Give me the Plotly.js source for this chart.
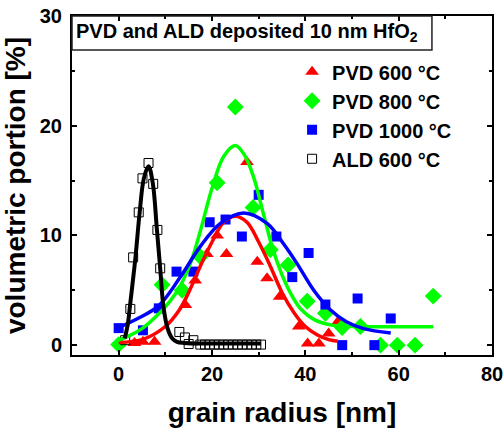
<!DOCTYPE html>
<html><head><meta charset="utf-8">
<script src="https://cdn.plot.ly/plotly-3.0.1.min.js"></script>
<style>html,body{margin:0;padding:0;background:#fff}#c{width:503px;height:432px}</style>
</head><body><div id="c"></div>
<script>
// ---- data ----
var pvd600_x = [3.4, 5.2, 7.7, 14.3, 16.4, 18.9, 21.1, 23.1, 27.5, 29.7, 31.8, 34.5, 38.6, 40.5, 42.9, 45.0, 47.1];
var pvd600_y = [0.2, 0.3, 0.3, 3.65, 5.9, 8.3, 10.0, 8.3, 16.7, 7.6, 6.1, 4.4, 1.7, 0.15, 0.15, 1.07, 2.2];

var pvd800_x = [0.0, 9.3, 13.6, 17.5, 21.1, 25.0, 28.8, 32.5, 36.3, 40.4, 44.3, 47.9, 51.8, 56.1, 59.7, 63.5, 67.4];
var pvd800_y = [0.05, 5.5, 5.0, 8.05, 14.8, 21.7, 12.55, 8.7, 7.3, 4.0, 2.9, 1.6, 1.7, 0.0, 0.0, 0.0, 4.47];

var pvd1000_x = [0.0, 5.2, 8.6, 12.4, 16.0, 19.5, 22.9, 26.4, 30.0, 33.8, 37.2, 40.7, 44.3, 47.9, 51.2, 54.8, 58.3];
var pvd1000_y = [1.55, 1.35, 3.35, 6.7, 6.7, 11.2, 11.45, 9.9, 13.7, 9.9, 6.2, 8.4, 3.7, 0.0, 4.25, 0.0, 2.43];

var ald600_x = [1.4, 2.5, 3.1, 4.3, 5.1, 6.4, 7.4, 8.3, 8.9, 13.0, 14.2, 15.0, 16.0, 17.5, 18.5, 19.5, 20.5, 21.5, 22.5, 23.5, 24.5, 25.5, 26.5, 27.5, 28.5, 29.5, 30.5];
var ald600_y = [0.45, 3.3, 8.0, 12.1, 15.2, 16.6, 14.7, 10.5, 7.0, 1.2, 0.7, 0.1, 0.45, 0.05, 0.05, 0.05, 0.05, 0.05, 0.05, 0.05, 0.05, 0.05, 0.05, 0.05, 0.05, 0.05, 0.05];

// fitted curves, points
var fit600_x = [0, 5, 10, 13, 15, 17.5, 20, 22.5, 25, 27.5, 30, 32.5, 35, 37.5, 40, 42.5, 45, 47];
var fit600_y = [0.25, 0.5, 1.7, 3.2, 4.8, 7.2, 9.4, 11.2, 11.75, 11.2, 9.4, 7.2, 4.8, 3.0, 1.7, 0.95, 0.5, 0.36];

var fit800_x = [-0.5, 2, 5, 8, 11, 13.2, 15.5, 17.5, 20, 22.5, 25, 27, 29, 31, 33, 35, 37, 39, 42, 46, 52, 67.4];
var fit800_y = [0.4, 0.8, 1.5, 2.6, 4.0, 5.4, 7.6, 10.4, 14.3, 17.2, 18.2, 17.3, 15.2, 12.0, 8.8, 6.4, 4.6, 3.3, 2.3, 1.8, 1.7, 1.67];

var fit1000_x = [0, 4, 8.6, 13.2, 17.5, 21.8, 26.8, 31.8, 35.4, 38.2, 41.8, 45.4, 48.9, 52.5, 58.3];
var fit1000_y = [1.6, 2.4, 3.6, 6.2, 9.0, 11.1, 12.05, 11.1, 9.2, 7.45, 5.0, 3.2, 2.1, 1.5, 1.1];

var fitald_x = [1.3, 2.0, 2.4, 3.0, 3.6, 4.5, 5.4, 6.4, 7.3, 8.2, 8.9, 9.6, 10.5, 11.5, 12.5, 14, 20, 30.5];
var fitald_y = [0.6, 2.0, 3.5, 5.7, 8.0, 12.1, 15.2, 16.3, 14.8, 10.5, 7.0, 3.5, 1.5, 0.6, 0.3, 0.2, 0.15, 0.15];

var names = ['PVD 600 °C', 'PVD 800 °C', 'PVD 1000 °C', 'ALD 600 °C'];
var boxTitle = 'PVD and ALD deposited 10 nm HfO<sub>2</sub>';
var xTitle = 'grain radius [nm]';
var yTitle = 'volumetric portion [%]';
var xTicks = [0, 20, 40, 60, 80];
var yTicks = [0, 10, 20, 30];

var F = 'Liberation Sans, Arial, sans-serif';
var RED = '#ff0000', GREEN = '#00ff00', BLUE = '#0000ff';

var traces = [
  {x: pvd600_x, y: pvd600_y, name: names[0], mode: 'markers', type: 'scatter',
   marker: {symbol: 'triangle-up', size: 12, color: RED}},
  {x: pvd800_x, y: pvd800_y, name: names[1], mode: 'markers', type: 'scatter',
   marker: {symbol: 'diamond', size: 13, color: GREEN}},
  {x: pvd1000_x, y: pvd1000_y, name: names[2], mode: 'markers', type: 'scatter',
   marker: {symbol: 'square', size: 10, color: BLUE}},
  {x: ald600_x, y: ald600_y, name: names[3], mode: 'markers', type: 'scatter',
   marker: {symbol: 'square-open', size: 9, color: '#000', line: {width: 1, color: '#000'}}},
  {x: fit600_x, y: fit600_y, mode: 'lines', showlegend: false, hoverinfo: 'skip',
   line: {color: RED, width: 3.5, shape: 'spline'}},
  {x: fit800_x, y: fit800_y, mode: 'lines', showlegend: false, hoverinfo: 'skip',
   line: {color: GREEN, width: 3.5, shape: 'spline'}},
  {x: fit1000_x, y: fit1000_y, mode: 'lines', showlegend: false, hoverinfo: 'skip',
   line: {color: BLUE, width: 3.5, shape: 'spline'}},
  {x: fitald_x, y: fitald_y, mode: 'lines', showlegend: false, hoverinfo: 'skip',
   line: {color: '#000', width: 4, shape: 'spline'}}
];

var axisCommon = {
  showline: true, linecolor: '#000', linewidth: 2, mirror: 'allticks',
  ticks: 'inside', ticklen: 5, tickwidth: 2, tickcolor: '#000',
  showgrid: false, zeroline: false, ticklabeloverflow: 'allow',
  tickfont: {family: F, size: 20, color: '#000', weight: 'bold'},
  minor: {ticks: 'inside', ticklen: 3, tickwidth: 2, tickcolor: '#000', showgrid: false}
};

var layout = {
  width: 503, height: 432,
  margin: {l: 72, r: 11, t: 16, b: 77},
  paper_bgcolor: '#fff', plot_bgcolor: '#fff',
  showlegend: true,
  xaxis: Object.assign({}, axisCommon, {
    range: [-10, 80], tickvals: xTicks, ticktext: xTicks.map(String),
    minor: Object.assign({}, axisCommon.minor, {tickvals: [-10, 10, 30, 50, 70]}),
    ticklabelstandoff: 0,
    title: {text: xTitle, font: {family: F, size: 28, color: '#000', weight: 'bold'}, standoff: 18}
  }),
  yaxis: Object.assign({}, axisCommon, {
    range: [-0.9, 30], tickvals: yTicks, ticktext: yTicks.map(String),
    minor: Object.assign({}, axisCommon.minor, {tickvals: [5, 15, 25]}),
    ticklabelstandoff: 4,
    title: {text: yTitle, font: {family: F, size: 28, color: '#000', weight: 'bold'}, standoff: 8}
  }),
  legend: {
    x: 0.524, y: 0.893, xanchor: 'left', yanchor: 'top',
    bgcolor: 'rgba(0,0,0,0)', borderwidth: 0,
    font: {family: F, size: 20, color: '#000', weight: 'bold'},
    tracegroupgap: 0
  },
  shapes: [{type: 'rect', xref: 'paper', yref: 'paper', x0: 0, x1: 0.857, y0: 0.8997, y1: 1,
            line: {color: '#222', width: 1.5}, fillcolor: 'rgba(0,0,0,0)'}],
  annotations: [{
    xref: 'paper', yref: 'paper', x: 0.005, y: 0.95, xanchor: 'left', yanchor: 'middle',
    text: boxTitle, showarrow: false,
    font: {family: F, size: 20, color: '#000', weight: 'bold'}
  }]
};

Plotly.newPlot('c', traces, layout, {displayModeBar: false, staticPlot: true});
</script>
</body></html>
